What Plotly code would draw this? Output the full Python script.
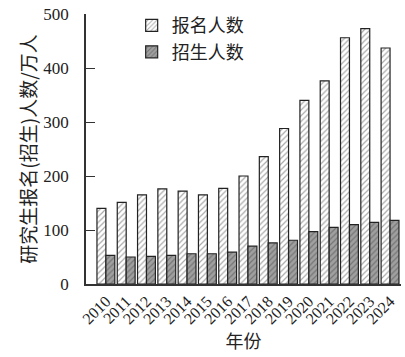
import plotly.graph_objects as go

years = ["2010", "2011", "2012", "2013", "2014", "2015", "2016", "2017",
         "2018", "2019", "2020", "2021", "2022", "2023", "2024"]
registrations = [140, 151, 165, 176, 172, 165, 177, 200, 236, 288, 340, 376, 456, 473, 437]
enrollments = [53, 50, 51, 53, 56, 56, 59, 70, 76, 81, 97, 105, 110, 114, 118]

serif = "Liberation Serif, Times New Roman, serif"
cjk = "Noto Sans CJK SC, sans-serif"

fig = go.Figure()
fig.add_trace(go.Bar(
    x=years, y=registrations, name="报名人数",
    marker=dict(color="#ffffff",
                line=dict(color="#222222", width=1.2),
                pattern=dict(shape="/", bgcolor="#ffffff", fgcolor="#555555",
                             size=4, solidity=0.3, fillmode="overlay")),
))
fig.add_trace(go.Bar(
    x=years, y=enrollments, name="招生人数",
    marker=dict(color="#a0a0a0",
                line=dict(color="#222222", width=1.2),
                pattern=dict(shape="/", bgcolor="#a0a0a0", fgcolor="#4a4a4a",
                             size=4, solidity=0.3, fillmode="overlay")),
))

fig.update_layout(
    width=405, height=357,
    margin=dict(l=86, r=4, t=14, b=73),
    paper_bgcolor="white", plot_bgcolor="white",
    barmode="group", bargap=0.12, bargroupgap=0,
    showlegend=True,
    legend=dict(x=0.145, y=1.025, xanchor="left", yanchor="top",
                font=dict(family=cjk, size=18, color="#222222"),
                bgcolor="rgba(0,0,0,0)", tracegroupgap=0),
    font=dict(family=serif, color="#222222"),
)
fig.update_xaxes(
    type="category", range=[-0.98, 14.54],
    showline=True, linecolor="#333333", linewidth=1.5,
    ticks="", tickangle=-45,
    tickfont=dict(family=serif, size=16, color="#222222"),
    title=dict(text="年份", font=dict(family=cjk, size=18, color="#222222"), standoff=4),
    showgrid=False,
)
fig.update_yaxes(
    range=[0, 500], tickvals=[0, 100, 200, 300, 400, 500],
    showline=True, linecolor="#333333", linewidth=1.5,
    ticks="inside", ticklen=9, tickwidth=1.2, tickcolor="#333333",
    ticklabelstandoff=12,
    tickfont=dict(family=serif, size=17, color="#222222"),
    title=dict(text="研究生报名(招生)人数/万人",
               font=dict(family=cjk, size=19, color="#222222"), standoff=2),
    showgrid=False, zeroline=False,
)

fig.write_html("out.html")
